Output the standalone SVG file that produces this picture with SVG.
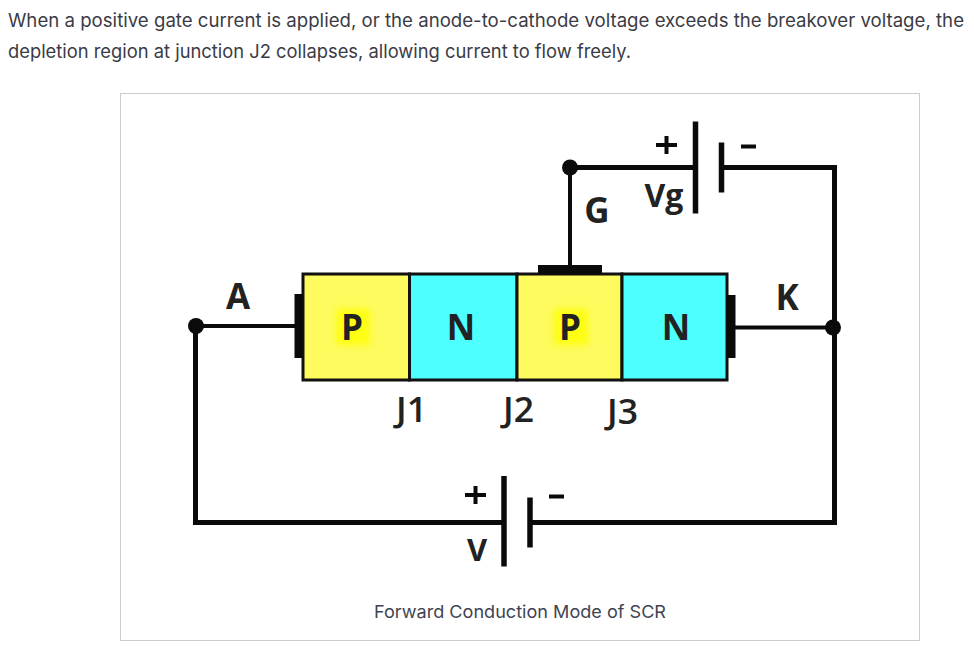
<svg xmlns="http://www.w3.org/2000/svg" width="974" height="658" viewBox="0 0 974 658">
<style>
.body{font-family:"Inter","Noto Sans","Liberation Sans",sans-serif;fill:#3b3b45;font-size:18.500px}
.cap{font-family:"Inter","Noto Sans","Liberation Sans",sans-serif;fill:#3f4452;font-size:17.500px}
.lab{font-family:"Open Sans","Noto Sans",sans-serif;font-weight:700;fill:#222;font-size:35px;text-anchor:middle}
.jun{font-family:"Open Sans","Noto Sans",sans-serif;font-weight:600;fill:#222;font-size:34px}
.wire{fill:none;stroke:#0a0a0a;stroke-width:5;stroke-linejoin:miter}
.thin{fill:none;stroke:#0a0a0a;stroke-width:4}
.plate{stroke:#0a0a0a;stroke-width:5.500}
.dot{fill:#0a0a0a}
.blk{fill:#0a0a0a}
.cell{stroke:#111;stroke-width:3}
.p{fill:#fdfb5e}.n{fill:#4dffff}
</style>
<defs><filter id="soft" x="-30%" y="-30%" width="160%" height="160%"><feGaussianBlur stdDeviation="3"/></filter></defs>
<rect width="974" height="658" fill="#fff"/>
<text class="body" x="8" y="27" textLength="956" lengthAdjust="spacingAndGlyphs">When a positive gate current is applied, or the anode-to-cathode voltage exceeds the breakover voltage, the</text>
<text class="body" x="8" y="58" textLength="623" lengthAdjust="spacingAndGlyphs">depletion region at junction J2 collapses, allowing current to flow freely.</text>
<rect x="120.500" y="93.500" width="799" height="547" fill="#fff" stroke="#cccccc"/>
<g id="connectors">
<path class="wire" d="M570 167.500H695"/>
<path class="wire" d="M722 167.500H834.500V522.500H530"/>
<path class="wire" d="M504 522.500H195.500V326"/>
<path class="thin" d="M570 167.500V266"/>
<path class="thin" d="M196 326H295"/>
<path class="thin" d="M735 327.500H834"/>
</g>
<g id="device">
<rect class="cell p" x="303" y="274" width="106.500" height="106"/>
<rect class="cell n" x="409.500" y="274" width="107.500" height="106"/>
<rect class="cell p" x="517" y="274" width="105" height="106"/>
<rect class="cell n" x="622" y="274" width="105" height="106"/>
<rect x="336" y="309" width="34" height="36" fill="#ffff00" opacity="0.800" filter="url(#soft)"/>
<rect x="554" y="309" width="34" height="36" fill="#ffff00" opacity="0.800" filter="url(#soft)"/>
<text class="lab" x="352" y="340">P</text>
<text class="lab" x="461" y="340">N</text>
<text class="lab" x="570" y="340">P</text>
<text class="lab" x="676" y="340">N</text>
</g>
<g id="contact-a"><rect class="blk" x="294.500" y="294" width="8.500" height="64"/><circle class="dot" cx="196" cy="326" r="8"/><text class="lab" x="238" y="309">A</text></g>
<g id="contact-k"><rect class="blk" x="727" y="295" width="8.500" height="63"/><circle class="dot" cx="833" cy="327.500" r="8"/><text class="lab" x="787" y="310">K</text></g>
<g id="contact-g"><rect class="blk" x="538" y="265" width="64" height="9"/><circle class="dot" cx="570" cy="167.500" r="8"/><text class="lab" x="597" y="223">G</text></g>
<g id="battery-vg">
<line class="plate" x1="695.500" y1="121.500" x2="695.500" y2="213.500"/>
<line class="plate" x1="721.500" y1="142.500" x2="721.500" y2="192.500"/>
<text class="lab" x="664" y="207" style="font-size:32px">Vg</text>
<path class="thin" d="M666.500 136V154M656 145H677"/>
<path class="thin" d="M741 146.500H756"/>
</g>
<g id="battery-v">
<line class="plate" x1="504" y1="476" x2="504" y2="566.500"/>
<line class="plate" x1="530" y1="497.500" x2="530" y2="547.500"/>
<text class="lab" x="477" y="561" style="font-size:31px">V</text>
<path class="thin" d="M475.500 486V504M465 495H486"/>
<path class="thin" d="M549 496.500H564"/>
</g>
<g id="junctions">
<text class="jun" x="396" y="422" textLength="31" lengthAdjust="spacingAndGlyphs">J1</text>
<text class="jun" x="503" y="422" textLength="31" lengthAdjust="spacingAndGlyphs">J2</text>
<text class="jun" x="607" y="424" textLength="31" lengthAdjust="spacingAndGlyphs">J3</text>
</g>
<text class="cap" x="374" y="617.500" textLength="292" lengthAdjust="spacingAndGlyphs">Forward Conduction Mode of SCR</text>
</svg>
